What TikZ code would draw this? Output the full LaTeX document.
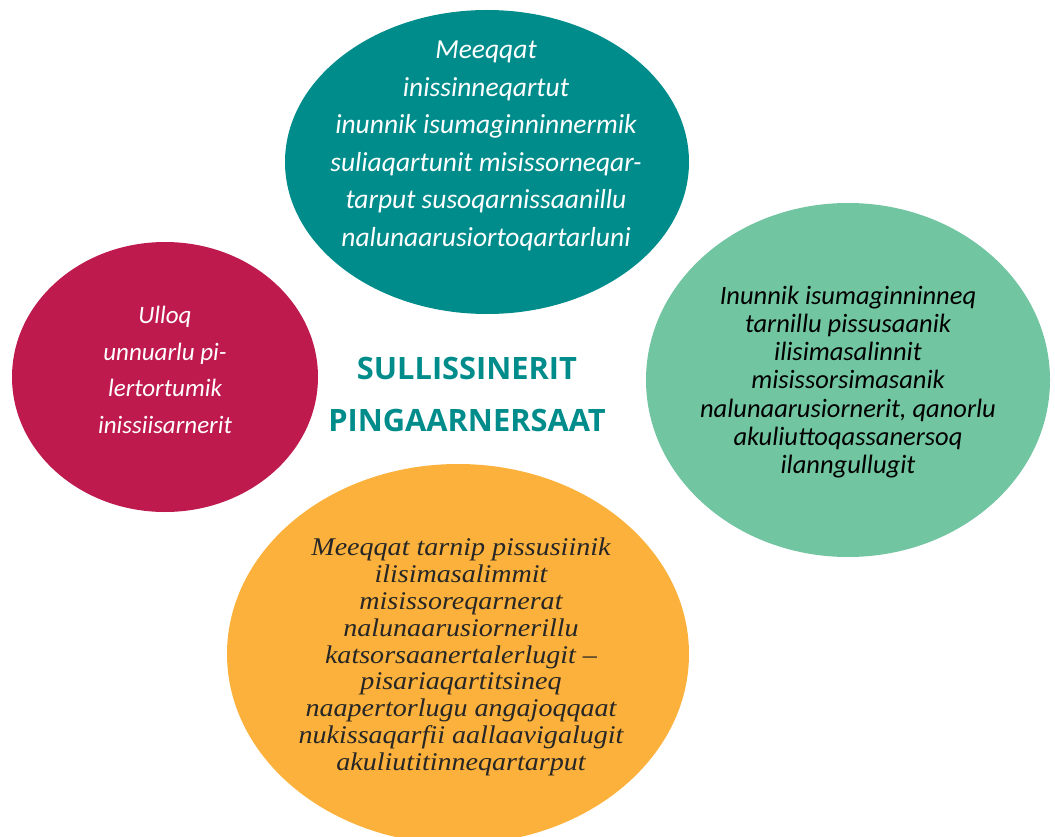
\documentclass[tikz,border=0pt]{standalone}
\usepackage{fontspec}
\setmainfont{Carlito}
\newfontfamily\cambriait[FakeStretch=1.1]{Liberation Serif}
\newfontfamily\headfont{Open Sans}
\usetikzlibrary{shapes.geometric}
\definecolor{tealc}{HTML}{018C8C}
\definecolor{crimsonc}{HTML}{BE1A4E}
\definecolor{mintc}{HTML}{71C5A1}
\definecolor{amberc}{HTML}{FBB13B}
\definecolor{inkc}{HTML}{262626}
\begin{document}
\begin{tikzpicture}[x=1pt,y=-1pt,
  blob/.style={ellipse,inner sep=0pt},
  blobtext/.style={align=center,inner sep=0pt}]
  \useasboundingbox (0,0) rectangle (1055,837);
  \clip (0,0) rectangle (1055,837);
  \node[blob,fill=tealc,minimum width=404,minimum height=304] (care) at (487,162) {};
  \node[blob,fill=crimsonc,minimum width=306,minimum height=270] (night) at (165,377) {};
  \node[blob,fill=mintc,minimum width=404,minimum height=354] (report) at (848,380) {};
  \node[blob,fill=amberc,minimum width=462,minimum height=380] (letter) at (458,654) {};
  \node[blobtext,text=white,font=\fontsize{27.5}{37.5}\selectfont\itshape] (careText) at (486,146)
    {Meeqqat\\inissinneqartut\\inunnik isumaginninnermik\\suliaqartunit misissorneqar-\\tarput susoqarnissaanillu\\nalunaarusiortoqartarluni};
  \node[blobtext,text=white,font=\fontsize{25}{36.5}\selectfont\itshape] (nightText) at (165,370)
    {Ulloq\\unnuarlu pi-\\lertortumik\\inissiisarnerit};
  \node[blobtext,text=black,font=\fontsize{26.5}{28.3}\selectfont\itshape] (reportText) at (848,382)
    {Inunnik isumaginninneq\\tarnillu pissusaanik\\ilisimasalinnit\\misissorsimasanik\\nalunaarusiornerit, qanorlu\\akuliuttoqassanersoq\\ilanngullugit};
  \node[blobtext,text=inkc,font=\cambriait\fontsize{25.5}{26.8}\selectfont\itshape] (letterText) at (461,657)
    {Meeqqat tarnip pissusiinik\\ilisimasalimmit\\misissoreqarnerat\\nalunaarusiornerillu\\katsorsaanertalerlugit –\\pisariaqartitsineq\\naapertorlugu angajoqqaat\\nukissaqarfii aallaavigalugit\\akuliutitinneqartarput};
  \node[blobtext,text=tealc,font=\headfont\fontsize{30.8}{52}\selectfont\bfseries] (title) at (467,394)
    {SULLISSINERIT\\PINGAARNERSAAT};
\end{tikzpicture}
\end{document}
